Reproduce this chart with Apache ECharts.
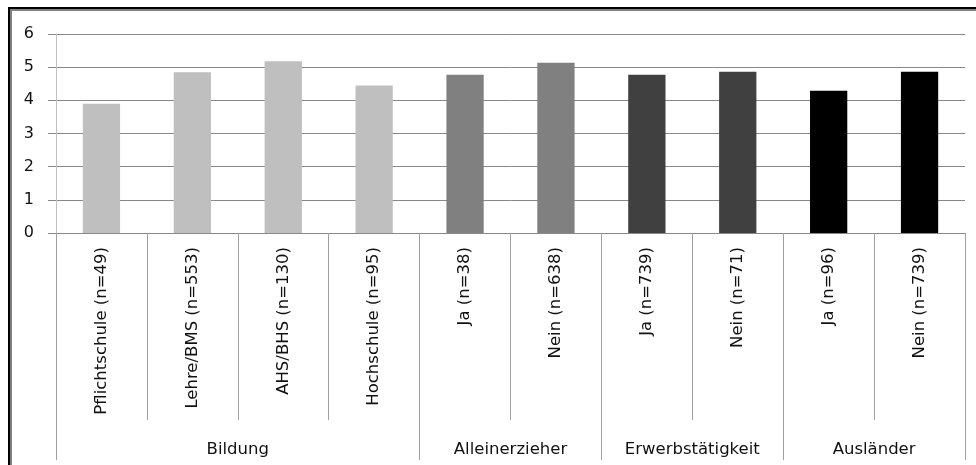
<!DOCTYPE html>
<html>
<head>
<meta charset="utf-8">
<script src="https://cdn.jsdelivr.net/npm/echarts@6/dist/echarts.min.js"></script>
<style>
  html, body { margin: 0; padding: 0; background: #fff; overflow: hidden; width: 976px; height: 465px; }
  #chart { position: absolute; left: 0; top: 0; width: 976px; height: 465px; }
  #frame { position: absolute; left: 8px; top: 7px; right: 0; bottom: 0;
           border-left: 2px solid #000; border-top: 2px solid #000; pointer-events: none; }
  #frame > div { position: absolute; left: 0; top: 0; right: 0; bottom: 0;
                 border-left: 2px solid #808080; border-top: 2px solid #808080; }
</style>
</head>
<body>
<div id="chart"></div>
<div id="frame"><div></div></div>
<script>
// Sub-categories along the x axis
const categories = [
  'Pflichtschule (n=49)', 'Lehre/BMS (n=553)', 'AHS/BHS (n=130)', 'Hochschule (n=95)',
  'Ja (n=38)', 'Nein (n=638)',
  'Ja (n=739)', 'Nein (n=71)',
  'Ja (n=96)', 'Nein (n=739)'
];
// Mean score per sub-category
const values = [3.9, 4.85, 5.18, 4.45, 4.77, 5.13, 4.77, 4.86, 4.29, 4.86];
// Groups and how many sub-categories each one spans
const groups = ['Bildung', 'Alleinerzieher', 'Erwerbstätigkeit', 'Ausländer'];
const groupSizes = [4, 2, 2, 2];
const groupColors = ['#bfbfbf', '#808080', '#404040', '#000000'];
// Value axis ticks
const yTicks = [0, 1, 2, 3, 4, 5, 6];

const FONT = 'DejaVu Sans';

// Group index of every sub-category, group start indices and group centres
const groupOf = [];
const groupStarts = [];
const groupCentres = {};
let start = 0;
groups.forEach((g, gi) => {
  groupStarts.push(start);
  for (let k = 0; k < groupSizes[gi]; k++) groupOf.push(gi);
  groupCentres[start + groupSizes[gi] / 2] = g;
  start += groupSizes[gi];
});

const chart = echarts.init(document.getElementById('chart'), null, { renderer: 'canvas' });
chart.setOption({
  animation: false,
  backgroundColor: '#ffffff',
  grid: { left: 56, right: 11, top: 34, bottom: 232, containLabel: false },
  xAxis: [
    {
      // sub-category labels with short separators
      type: 'category',
      data: categories,
      position: 'bottom',
      axisLine: { show: true, lineStyle: { color: '#888888', width: 1 } },
      axisTick: { show: true, length: 187, interval: 0, lineStyle: { color: '#a0a0a0', width: 1 } },
      axisLabel: {
        interval: 0, rotate: 90, margin: 14,
        fontFamily: FONT, fontSize: 16.5, color: '#111111'
      }
    },
    {
      // long separators between groups
      type: 'category',
      data: categories,
      position: 'bottom',
      axisLine: { show: false },
      axisTick: {
        show: true, length: 227,
        interval: (idx) => groupStarts.indexOf(idx) !== -1,
        lineStyle: { color: '#a0a0a0', width: 1 }
      },
      axisLabel: { show: false },
      splitLine: { show: false }
    },
    {
      // group names centred under their sub-categories
      type: 'value',
      min: 0, max: categories.length, interval: 1,
      position: 'bottom',
      axisLine: { show: false },
      axisTick: { show: false },
      splitLine: { show: false },
      axisLabel: {
        margin: 208, fontFamily: FONT, fontSize: 16.5, color: '#111111',
        showMinLabel: true, showMaxLabel: true,
        formatter: (v) => groupCentres[v] || ''
      }
    }
  ],
  yAxis: {
    type: 'value',
    min: yTicks[0], max: yTicks[yTicks.length - 1], interval: 1,
    axisLine: { show: true, lineStyle: { color: '#c0c0c0', width: 1 } },
    axisTick: { show: true, length: 8, lineStyle: { color: '#888888' } },
    splitLine: { show: true, lineStyle: { color: '#888888', width: 1 } },
    axisLabel: { margin: 22, fontFamily: FONT, fontSize: 16, color: '#111111' }
  },
  series: [{
    type: 'bar',
    xAxisIndex: 0,
    barWidth: '41%',
    data: values.map((v, i) => ({ value: v, itemStyle: { color: groupColors[groupOf[i]] } }))
  }]
});
</script>
</body>
</html>
